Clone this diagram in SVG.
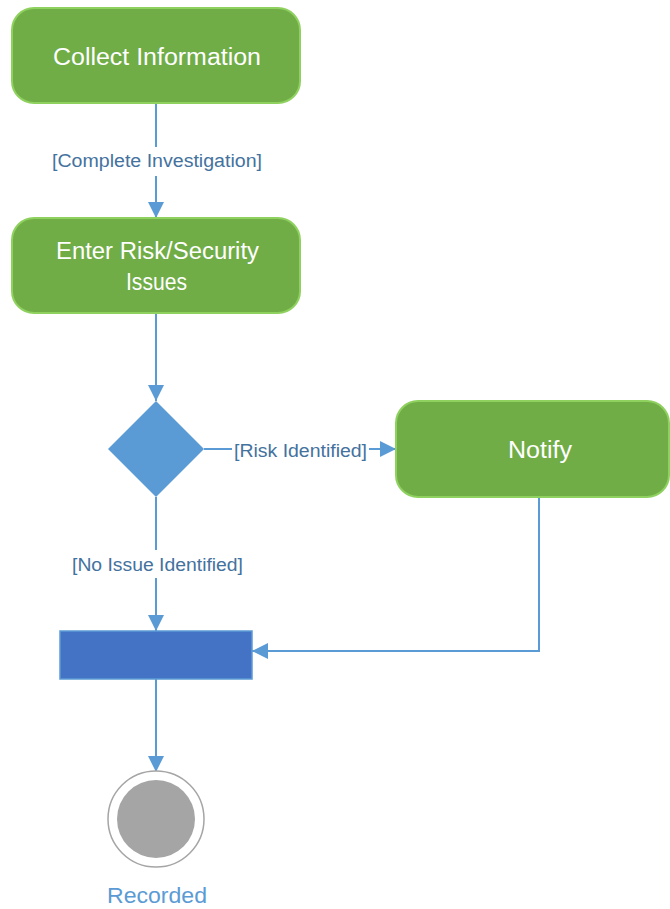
<svg xmlns="http://www.w3.org/2000/svg" width="670" height="909" viewBox="0 0 670 909">
  <defs>
    <style>
      .act { fill: #70AD47; stroke: #8FD15E; stroke-width: 2; }
      .ntxt { font-family: "Liberation Sans", Arial, sans-serif; font-size: 23px; fill: #FFFFFF; text-anchor: middle; }
      .lbl { font-family: "Liberation Sans", Arial, sans-serif; font-size: 18px; fill: #44729E; }
      .conn { fill: none; stroke: #5B9BD5; stroke-width: 2; }
    </style>
    <marker id="arr" viewBox="0 0 16 16" refX="16" refY="8" markerWidth="16" markerHeight="16" markerUnits="userSpaceOnUse" orient="auto">
      <path d="M0,0 L16,8 L0,16 Z" fill="#5B9BD5"/>
    </marker>
  </defs>
  <rect width="670" height="909" fill="#FFFFFF"/>

  <g id="connectors">
    <path class="conn" d="M156,103 V147"/>
    <path class="conn" d="M156,176 V218" marker-end="url(#arr)"/>
    <path class="conn" d="M156,313 V401" marker-end="url(#arr)"/>
    <path class="conn" d="M204,449 H232"/>
    <path class="conn" d="M369,449 H396" marker-end="url(#arr)"/>
    <path class="conn" d="M156,497 V550"/>
    <path class="conn" d="M156,578 V631" marker-end="url(#arr)"/>
    <path class="conn" d="M539,497 V651 H252" marker-end="url(#arr)"/>
    <path class="conn" d="M156,679 V772" marker-end="url(#arr)"/>
    <text class="lbl" x="52" y="167" textLength="210" lengthAdjust="spacingAndGlyphs">[Complete Investigation]</text>
    <text class="lbl" x="234" y="457" textLength="133" lengthAdjust="spacingAndGlyphs">[Risk Identified]</text>
    <text class="lbl" x="72" y="571" textLength="171" lengthAdjust="spacingAndGlyphs">[No Issue Identified]</text>
  </g>

  <g id="collect">
    <rect class="act" x="12" y="8" width="288" height="95" rx="22"/>
    <text class="ntxt" x="157" y="65" textLength="208" lengthAdjust="spacingAndGlyphs">Collect Information</text>
  </g>

  <g id="enter">
    <rect class="act" x="12" y="218" width="288" height="95" rx="22"/>
    <text class="ntxt" x="157.5" y="259" textLength="203" lengthAdjust="spacingAndGlyphs">Enter Risk/Security</text>
    <text class="ntxt" x="156.5" y="290" textLength="61" lengthAdjust="spacingAndGlyphs">Issues</text>
  </g>

  <g id="decision">
    <path d="M156,401 L204,449 L156,497 L108,449 Z" fill="#5B9BD5"/>
  </g>

  <g id="notify">
    <rect class="act" x="396" y="401" width="273" height="96" rx="22"/>
    <text class="ntxt" x="540" y="458" textLength="64" lengthAdjust="spacingAndGlyphs">Notify</text>
  </g>

  <g id="join">
    <rect x="60" y="631" width="192" height="48" fill="#4472C4" stroke="#5B9BD5" stroke-width="1.5"/>
  </g>

  <g id="final">
    <circle cx="156" cy="819" r="48" fill="#FFFFFF" stroke="#A5A5A5" stroke-width="1.5"/>
    <circle cx="156" cy="819" r="39" fill="#A5A5A5"/>
    <text x="157" y="903" font-family="Liberation Sans, Arial, sans-serif" font-size="22" fill="#5B9BD5" text-anchor="middle" textLength="100" lengthAdjust="spacingAndGlyphs">Recorded</text>
  </g>
</svg>
